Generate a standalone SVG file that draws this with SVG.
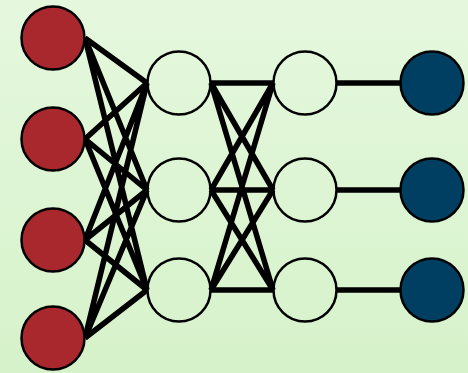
<svg xmlns="http://www.w3.org/2000/svg" width="468" height="373" viewBox="0 0 468 373">
<defs>
<linearGradient id="bg" x1="0" y1="0" x2="0" y2="1">
<stop offset="0" stop-color="#e5f8de"/>
<stop offset="1" stop-color="#d6f2ca"/>
</linearGradient>
<style>
.e{stroke:#000;stroke-width:5.5;fill:none;stroke-linecap:butt}
.n{stroke:#000;stroke-width:2.5}
.in{fill:#a8282d}
.h{fill:none}
.out{fill:#003f62}
</style>
</defs>
<rect width="468" height="373" fill="url(#bg)"/>
<g id="connectors">
<path class="e" d="M85 38L147 83M85 38L147 190M85 38L147 290M85 139L147 83M85 139L147 190M85 139L147 290M85 240L147 83M85 240L147 190M85 240L147 290M85 338L147 83M85 338L147 190M85 338L147 290"/>
<path class="e" d="M211 83L273 83M211 83L273 190M211 83L273 290M211 190L273 83M211 190L273 190M211 190L273 290M211 290L273 83M211 290L273 190M211 290L273 290"/>
<path class="e" d="M337 83L400 83M337 190L400 190M337 290L400 290"/>
</g>
<g id="in1"><circle class="n in" cx="53" cy="38" r="31.5"/></g>
<g id="in2"><circle class="n in" cx="53" cy="139" r="31.5"/></g>
<g id="in3"><circle class="n in" cx="53" cy="240" r="31.5"/></g>
<g id="in4"><circle class="n in" cx="53" cy="338" r="31.5"/></g>
<g id="h1a"><circle class="n h" cx="179" cy="83" r="31.5"/></g>
<g id="h1b"><circle class="n h" cx="179" cy="190" r="31.5"/></g>
<g id="h1c"><circle class="n h" cx="179" cy="290" r="31.5"/></g>
<g id="h2a"><circle class="n h" cx="305" cy="83" r="31.5"/></g>
<g id="h2b"><circle class="n h" cx="305" cy="190" r="31.5"/></g>
<g id="h2c"><circle class="n h" cx="305" cy="290" r="31.5"/></g>
<g id="out1"><circle class="n out" cx="432" cy="83" r="31.5"/></g>
<g id="out2"><circle class="n out" cx="432" cy="190" r="31.5"/></g>
<g id="out3"><circle class="n out" cx="432" cy="290" r="31.5"/></g>
</svg>
